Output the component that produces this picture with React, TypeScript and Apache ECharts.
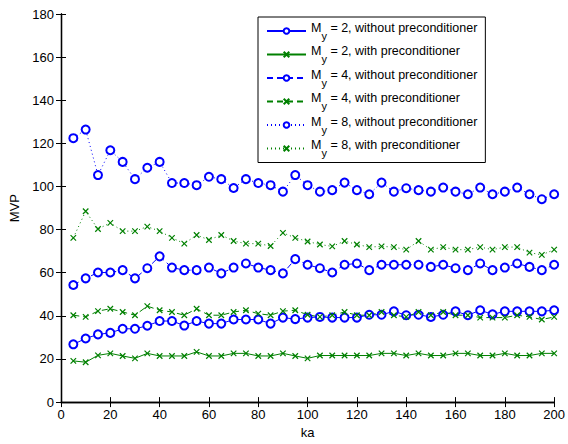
import React, { useEffect, useRef } from "react";
import * as echarts from "echarts";

const ka = [5, 10, 15, 20, 25, 30, 35, 40, 45, 50, 55, 60, 65, 70, 75, 80, 85, 90, 95, 100,
  105, 110, 115, 120, 125, 130, 135, 140, 145, 150, 155, 160, 165, 170, 175, 180, 185, 190, 195, 200];

const m2Without = [26.8, 29.5, 31.4, 32.1, 34.0, 34.0, 35.4, 37.6, 37.6, 35.5,
  37.6, 36.4, 36.4, 38.3, 38.3, 38.3, 36.4, 39.2, 38.5, 39.2,
  39.5, 39.2, 39.2, 39.2, 40.5, 40.5, 42.1, 40.3, 40.5, 39.5,
  40.5, 42.1, 40.3, 42.6, 40.7, 42.1, 42.1, 42.1, 42.1, 42.6];
const m2With = [19.1, 18.5, 21.7, 22.6, 21.4, 20.3, 22.6, 21.4, 21.4, 21.4,
  23.3, 21.4, 21.4, 22.6, 22.6, 21.4, 21.4, 22.6, 21.4, 20.3,
  21.6, 21.6, 21.6, 21.6, 21.6, 22.6, 22.6, 21.6, 22.6, 21.6,
  21.6, 22.6, 22.6, 21.6, 21.6, 22.6, 21.6, 21.6, 22.6, 22.6];
const m4Without = [54.3, 57.4, 60.1, 60.1, 61.2, 57.4, 62.1, 67.6, 62.4, 61.2,
  61.2, 62.4, 59.7, 62.4, 64.3, 62.4, 61.2, 59.7, 66.3, 63.7,
  62.1, 60.1, 63.7, 64.3, 61.2, 63.7, 63.7, 63.7, 63.7, 62.7,
  63.7, 62.1, 61.2, 64.3, 61.2, 62.4, 64.3, 62.7, 61.2, 63.7];
const m4With = [40.3, 39.5, 42.2, 43.3, 41.8, 40.3, 44.5, 42.6, 41.8, 40.3,
  43.3, 40.3, 40.3, 41.8, 42.6, 41.0, 40.3, 42.2, 42.6, 40.5,
  39.5, 40.3, 41.8, 40.3, 40.3, 41.8, 40.3, 39.5, 41.8, 40.3,
  41.8, 40.3, 40.3, 39.2, 39.2, 39.2, 40.3, 39.5, 38.3, 39.5];
const m8Without = [122.4, 126.4, 105.3, 116.8, 111.4, 103.4, 108.7, 111.4, 101.6, 101.6,
  100.6, 104.5, 103.4, 99.3, 103.4, 101.6, 100.6, 97.6, 105.3, 100.6,
  97.6, 98.3, 101.8, 98.3, 96.4, 101.8, 97.6, 99.2, 98.3, 97.6,
  99.5, 97.6, 96.4, 99.5, 96.4, 97.6, 99.5, 96.4, 94.1, 96.4];
const m8With = [76.2, 88.5, 80.3, 83.1, 79.3, 79.3, 81.4, 79.3, 76.2, 73.5,
  77.5, 75.2, 77.5, 74.7, 73.5, 73.5, 72.4, 78.5, 76.2, 74.5,
  73.1, 72.2, 74.7, 73.1, 71.9, 72.2, 71.9, 70.7, 74.7, 70.7,
  71.9, 70.7, 70.7, 71.9, 70.7, 71.9, 71.9, 69.3, 68.3, 70.7];

const seriesNames = [
  "M_y = 2, without preconditioner",
  "M_y = 2, with preconditioner",
  "M_y = 4, without preconditioner",
  "M_y = 4, with preconditioner",
  "M_y = 8, without preconditioner",
  "M_y = 8, with preconditioner",
];

const BLUE = "#0000ff";
const GREEN = "#008000";
const CROSS = "path://M0,0L10,10M10,0L0,10";
const FONT = "Liberation Sans, Arial, sans-serif";

export default function App() {
  const ref = useRef<HTMLDivElement>(null);
  useEffect(() => {
    if (!ref.current) return;
    const chart = echarts.init(ref.current, undefined, { renderer: "svg" });
    const pairs = (vals: number[]) => ka.map((x, i) => [x, vals[i]]);
    const mk = (name: string, vals: number[], color: string, dash: any, cross: boolean) => ({
      name,
      type: "line",
      data: pairs(vals),
      symbol: cross ? CROSS : "emptyCircle",
      symbolSize: cross ? 5.5 : 8,
      showSymbol: true,
      lineStyle: { color, width: 1, type: dash },
      itemStyle: cross
        ? { color: "rgba(0,0,0,0)", borderColor: color, borderWidth: 1.2 }
        : { color, borderColor: color, borderWidth: 1.2 },
    });
    const baseAxis = {
      type: "value",
      axisLine: { show: true, lineStyle: { color: "#000", width: 1.3 } },
      axisTick: { show: true, inside: true, length: 5, lineStyle: { color: "#000" } },
      splitLine: { show: false },
    };
    chart.setOption({
      animation: false,
      textStyle: { fontFamily: FONT },
      grid: { left: 61, right: 9, top: 14, bottom: 38, containLabel: false },
      xAxis: [
        {
          ...baseAxis,
          min: 0, max: 200, interval: 20,
          position: "bottom",
          name: "ka",
          nameLocation: "middle",
          nameGap: 22,
          nameTextStyle: { color: "#000", fontSize: 13, fontFamily: FONT },
          axisLabel: { color: "#000", fontSize: 13, margin: 6, fontFamily: FONT },
        },
        {
          ...baseAxis,
          min: 0, max: 200, interval: 20,
          position: "top",
          axisLabel: { show: false },
        },
      ],
      yAxis: [
        {
          ...baseAxis,
          min: 0, max: 180, interval: 20,
          position: "left",
          name: "MVP",
          nameLocation: "middle",
          nameGap: 36,
          nameTextStyle: { color: "#000", fontSize: 13, fontFamily: FONT },
          axisLabel: { color: "#000", fontSize: 13, margin: 7, fontFamily: FONT },
        },
        {
          ...baseAxis,
          min: 0, max: 180, interval: 20,
          position: "right",
          axisLabel: { show: false },
        },
      ],
      legend: {
        orient: "vertical",
        left: 258,
        top: 17,
        padding: [4, 8, 4, 8],
        itemWidth: 39,
        itemHeight: 7,
        itemGap: 3.5,
        backgroundColor: "#fff",
        borderColor: "#000",
        borderWidth: 1,
        borderRadius: 0,
        data: seriesNames,
        formatter: (name: string) => {
          const rest = name.replace("M_y", "");
          return "{m|M}{s|y}{t|" + rest + "}";
        },
        textStyle: {
          color: "#000",
          fontSize: 12.5,
          fontFamily: FONT,
          rich: {
            m: { fontSize: 12.5, fontFamily: FONT, color: "#000", lineHeight: 20, verticalAlign: "top" },
            s: { fontSize: 11, fontFamily: FONT, color: "#000", lineHeight: 20, verticalAlign: "bottom" },
            t: { fontSize: 12.5, fontFamily: FONT, color: "#000", lineHeight: 20, verticalAlign: "top" },
          },
        },
      },
      series: [
        mk(seriesNames[0], m2Without, BLUE, "solid", false),
        mk(seriesNames[1], m2With, GREEN, "solid", true),
        mk(seriesNames[2], m4Without, BLUE, [6, 4], false),
        mk(seriesNames[3], m4With, GREEN, [6, 4], true),
        mk(seriesNames[4], m8Without, BLUE, [1, 3], false),
        mk(seriesNames[5], m8With, GREEN, [1, 3], true),
      ],
    });
    return () => chart.dispose();
  }, []);
  return (
    <div
      ref={ref}
      style={{ position: "fixed", left: 0, top: 0, width: 568, height: 444, background: "#fff" }}
    />
  );
}
